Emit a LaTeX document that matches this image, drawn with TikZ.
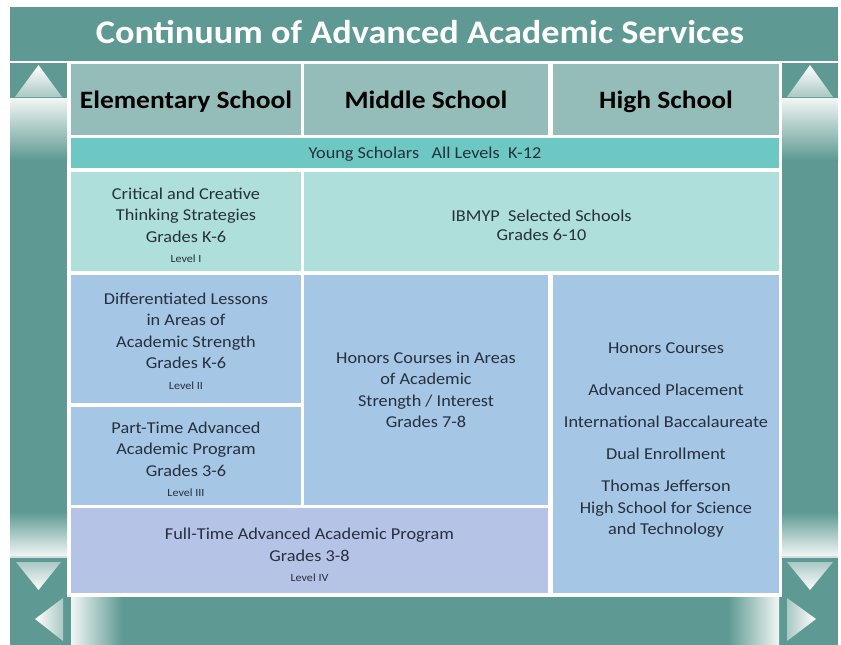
\documentclass[tikz,border=0pt]{standalone}
\usepackage{fontspec}
\setmainfont{Carlito}[FakeStretch=1.1]
\definecolor{tealbg}{HTML}{5E9A93}
\definecolor{hdrc}{HTML}{94BDB9}
\definecolor{ysc}{HTML}{6DC8C3}
\definecolor{critc}{HTML}{AEDFDA}
\definecolor{bluec}{HTML}{A6C6E6}
\definecolor{fullc}{HTML}{B5C3E6}
\definecolor{txtc}{HTML}{26303C}
\definecolor{lightc}{HTML}{F2F6F5}
\definecolor{midc}{HTML}{A9C8C4}
\tikzset{
  cell/.style={inner sep=0pt, align=center, text=txtc, font=\fontsize{16.6}{21.5}\selectfont},
  hdr/.style={cell, fill=hdrc, text=black, font=\bfseries\fontsize{25}{30}\selectfont,
    minimum height=71pt, text height=23pt, text depth=5pt}
}
\newcommand{\lvltxt}[1]{{\fontsize{11}{12}\selectfont #1}}
\newcommand{\dn}[1]{\rule{0pt}{#1pt}}
\begin{document}
\begin{tikzpicture}[x=1pt,y=-1pt]
\useasboundingbox (0,0) rectangle (841,645);
\fill[white] (0,0) rectangle (841,645);
% title bar
\fill[tealbg] (10,7) rectangle (838,61);
\node[font=\bfseries\fontsize{33}{36}\selectfont, text=white] (title) at (420,32) {Continuum of Advanced Academic Services};
% side panels
\foreach \xa/\xb in {10/67, 782/838} {
  \fill[tealbg] (\xa,63) rectangle (\xb,645);
  \shade[top color=lightc, bottom color=tealbg] (\xa,98) rectangle (\xb,160);
  \shade[top color=tealbg, bottom color=lightc] (\xa,512) rectangle (\xb,556);
  \fill[white!70!tealbg] (\xa,556) rectangle (\xb,558);
}
% up arrows
\shade[top color=white, bottom color=midc] (38.5,65) -- (62,97) -- (15,97) -- cycle;
\shade[top color=white, bottom color=midc] (810,65) -- (833,97) -- (787,97) -- cycle;
% down arrows
\shade[top color=midc, bottom color=white] (16,562) -- (61,562) -- (38.5,590) -- cycle;
\shade[top color=midc, bottom color=white] (787,562) -- (833,562) -- (810,590) -- cycle;
% left / right arrows
\shade[left color=white, right color=midc] (35,619) -- (63,598) -- (63,641) -- cycle;
\shade[left color=midc, right color=white] (787,598) -- (816,619) -- (787,641) -- cycle;
% bottom strip
\fill[tealbg] (67,597) rectangle (782,645);
\shade[left color=lightc, right color=tealbg] (71,597) rectangle (122,645);
\shade[left color=tealbg, right color=lightc] (728,597) rectangle (779,645);
% header cells
\node[hdr, minimum width=230pt] (hE) at (186,99.5) {Elementary School};
\node[hdr, minimum width=244pt] (hM) at (426,99.5) {Middle School};
\node[hdr, minimum width=226pt] (hH) at (666,99.5) {High School};
% young scholars
\node[cell, fill=ysc, minimum width=708pt, minimum height=30pt] (ys) at (425,153) {\dn{14}Young Scholars\ \ \ All Levels\ \ K-12};
% row 1
\node[cell, fill=critc, minimum width=230pt, minimum height=99pt] (crit) at (186,221.5)
  {\dn{19}Critical and Creative\\Thinking Strategies\\Grades K-6\\[-1pt]\lvltxt{Level I}};
\node[cell, fill=critc, minimum width=475pt, minimum height=99pt] (ib) at (541.5,221.5)
  {\dn{19}IBMYP\ \ Selected Schools\\[-2pt]Grades 6-10};
% row 2
\node[cell, fill=bluec, minimum width=230pt, minimum height=128pt] (diff) at (186,339)
  {\dn{16}Differentiated Lessons\\in Areas of\\Academic Strength\\Grades K-6\\[-1pt]\lvltxt{Level II}};
\node[cell, fill=bluec, minimum width=230pt, minimum height=98pt] (part) at (186,456)
  {\dn{18}Part-Time Advanced\\Academic Program\\Grades 3-6\\[-1pt]\lvltxt{Level III}};
\node[cell, fill=bluec, minimum width=244pt, minimum height=230pt] (honm) at (426,390)
  {Honors Courses in Areas\\of Academic\\Strength / Interest\\Grades 7-8};
\node[cell, fill=bluec, minimum width=226pt, minimum height=318pt] (high) at (666,434)
  {\dn{23}Honors Courses\\[21pt]Advanced Placement\\[10.5pt]International Baccalaureate\\[10.5pt]Dual Enrollment\\[10.5pt]Thomas Jefferson\\High School for Science\\and Technology};
\node[cell, fill=fullc, minimum width=477pt, minimum height=85pt] (full) at (309.5,550.5)
  {\dn{21}Full-Time Advanced Academic Program\\Grades 3-8\\[-1pt]\lvltxt{Level IV}};
\end{tikzpicture}
\end{document}
